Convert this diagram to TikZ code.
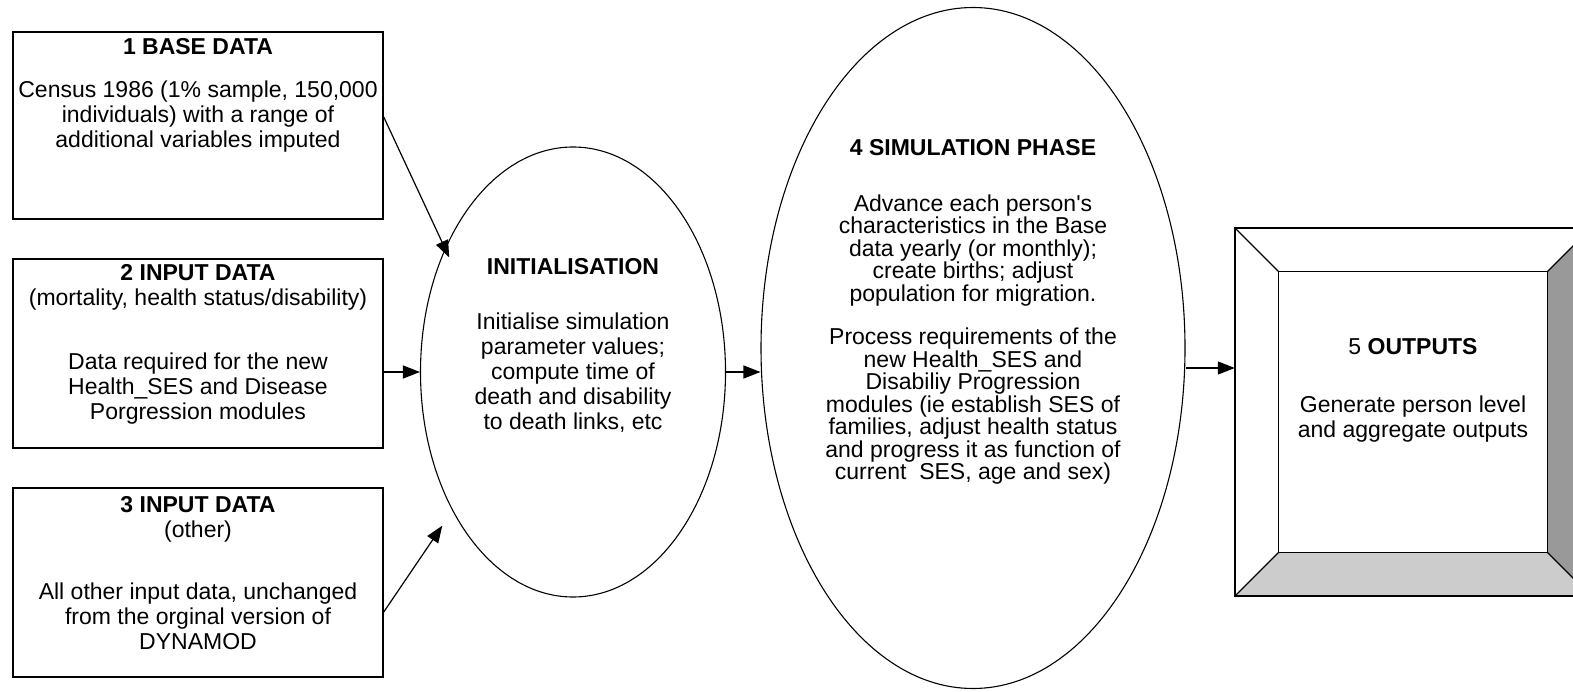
\documentclass[tikz,border=0pt]{standalone}
\usepackage{fontspec}
\setmainfont{Liberation Sans}
\usetikzlibrary{shapes.geometric,arrows.meta}
\definecolor{bevellight}{HTML}{CCCCCC}
\definecolor{beveldark}{HTML}{999999}

\begin{document}
\begin{tikzpicture}[x=1pt, y=-1pt,
    every node/.style={inner sep=0pt, align=center, font=\fontsize{23}{25}\selectfont},
    databox/.style={draw, line width=1.5pt, minimum width=370pt},
    phase/.style={draw, ellipse, line width=1.1pt},
    flow/.style={-{Triangle[length=17pt,width=13pt]}, line width=1.2pt}]
    \useasboundingbox (0,0) rectangle (1573,692);
    \clip (0,0) rectangle (1573,692);
    % input boxes
    \node[databox, minimum height=187pt] (base) at (198,125.5) {};
    \node[databox, minimum height=189pt] (inp) at (198,353.5) {};
    \node[databox, minimum height=189pt] (other) at (198,582.5) {};
    \node (basetxt) at (198,95) {\textbf{1 BASE DATA}\\[18pt]
        Census 1986 (1\% sample, 150,000\\ individuals) with a range of\\ additional variables imputed};
    \node (inptxt) at (198,344) {\textbf{2 INPUT DATA}\\ (mortality, health status/disability)\\[39pt]
        Data required for the new\\ Health\_SES and Disease\\ Porgression modules};
    \node (othertxt) at (198,573) {\textbf{3 INPUT DATA}\\ (other)\\[37pt]
        All other input data, unchanged\\ from the orginal version of\\ DYNAMOD};
    % phases
    \node[phase, minimum width=305pt, minimum height=450pt] (init) at (573,372) {};
    \node[phase, minimum width=424pt, minimum height=681pt] (sim) at (973,348) {};
    \node (inittxt) at (573,345) {\textbf{INITIALISATION}\\[30pt]
        Initialise simulation\\ parameter values;\\ compute time of\\ death and disability\\ to death links, etc};
    \node[font=\fontsize{23}{22.5}\selectfont] (simtxt) at (973,312) {\textbf{4 SIMULATION PHASE}\\[33pt]
        Advance each person\textquotesingle s\\ characteristics in the Base\\ data yearly (or monthly);\\ create births; adjust\\ population for migration.\\[21pt]
        Process requirements of the\\ new Health\_SES and\\ Disabiliy Progression\\ modules (ie establish SES of\\ families, adjust health status\\ and progress it as function of\\ current\ \ SES, age and sex)};
    % output box
    \node[minimum width=356pt, minimum height=368pt] (out) at (1413,412) {};
    \node[minimum width=268pt, minimum height=280pt] (outin) at (1413,412) {};
    \fill[bevellight] (out.south west) -- (out.south east) -- (outin.south east) -- (outin.south west) -- cycle;
    \fill[beveldark] (out.south east) -- (out.north east) -- (outin.north east) -- (outin.south east) -- cycle;
    \draw[line width=1.5pt] (out.south west) rectangle (out.north east);
    \draw[line width=1.3pt] (outin.south west) rectangle (outin.north east);
    \draw[line width=1.3pt] (out.north west) -- (outin.north west);
    \draw[line width=1.3pt] (out.north east) -- (outin.north east);
    \draw[line width=1.3pt] (out.south west) -- (outin.south west);
    \draw[line width=1.3pt] (out.south east) -- (outin.south east);
    \node (outtxt) at (1413,390) {5 \textbf{OUTPUTS}\\[33pt] Generate person level\\ and aggregate outputs};
    % connectors
    \draw[flow, shorten >=-10pt] ([yshift=8.5pt]base.east) -- (init.136);
    \draw[flow] (inp.east |- init.west) -- (init.west);
    \draw[flow, shorten >=18pt] ([yshift=-29.5pt]other.east) -- (init.229);
    \draw[flow] (init.east) -- (init.east -| sim.west);
    \draw[flow] ([yshift=4pt]init.east -| sim.east) -- ([yshift=4pt]init.east -| out.west);
\end{tikzpicture}
\end{document}
